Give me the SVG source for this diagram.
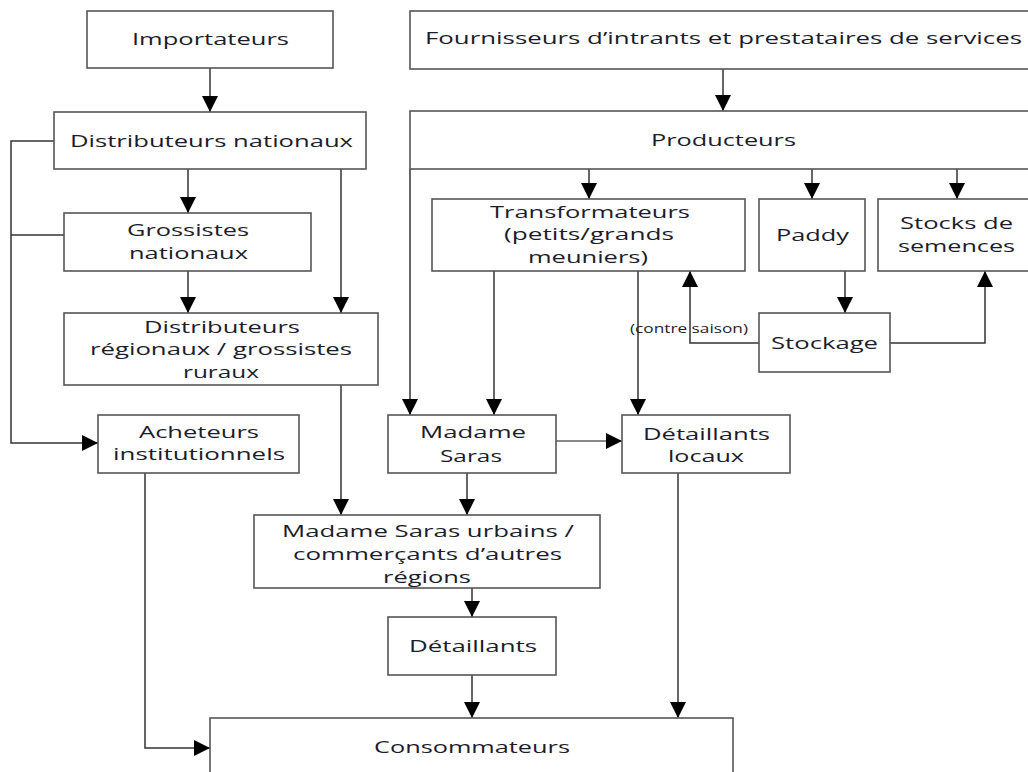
<svg xmlns="http://www.w3.org/2000/svg" width="1028" height="772" viewBox="0 0 1028 772">
<style>
.box{fill:#fff;stroke:#555;stroke-width:1.6}
.t{font-family:"Open Sans","Liberation Sans",sans-serif;font-size:17px;fill:#1c1c2c}
.s{font-family:"Open Sans","Liberation Sans",sans-serif;font-size:12px;fill:#1c1c2c}
.c{fill:none;stroke:#333;stroke-width:1.5}
.cl{fill:none;stroke:#888;stroke-width:1.8}
</style>
<defs>
<marker id="ah" markerUnits="userSpaceOnUse" markerWidth="16" markerHeight="16" viewBox="0 0 14 14" refX="14" refY="7" orient="auto">
<path d="M0,0 L14,7 L0,14 z" fill="#000"/>
</marker>
</defs>
<rect width="1028" height="772" fill="#fff"/>
<g id="connectors">
<path class="c" d="M210,68 V112" marker-end="url(#ah)"/>
<path class="c" d="M188,169 V213" marker-end="url(#ah)"/>
<path class="c" d="M341,169 V313" marker-end="url(#ah)"/>
<path class="c" d="M188,271 V313" marker-end="url(#ah)"/>
<path class="c" d="M54,141 H11 V443 H98" marker-end="url(#ah)"/>
<path class="c" d="M64,235 H11"/>
<path class="c" d="M341,385 V515" marker-end="url(#ah)"/>
<path class="c" d="M145,473 V748 H210" marker-end="url(#ah)"/>
<path class="c" d="M723,69 V111" marker-end="url(#ah)"/>
<path class="c" d="M589,169 V199" marker-end="url(#ah)"/>
<path class="c" d="M812,169 V199" marker-end="url(#ah)"/>
<path class="c" d="M957,169 V199" marker-end="url(#ah)"/>
<path class="c" d="M410,169 V415" marker-end="url(#ah)"/>
<path class="c" d="M494,271 V415" marker-end="url(#ah)"/>
<path class="c" d="M638,271 V415" marker-end="url(#ah)"/>
<path class="c" d="M845,271 V313" marker-end="url(#ah)"/>
<path class="c" d="M759,343 H690 V271" marker-end="url(#ah)"/>
<path class="c" d="M890,343 H985 V271" marker-end="url(#ah)"/>
<path class="cl" d="M556,441 H622" marker-end="url(#ah)"/>
<path class="c" d="M467,473 V515" marker-end="url(#ah)"/>
<path class="c" d="M472,588 V617" marker-end="url(#ah)"/>
<path class="c" d="M472,675 V718" marker-end="url(#ah)"/>
<path class="c" d="M678,473 V718" marker-end="url(#ah)"/>
<text class="s" x="630" y="333" textLength="118" lengthAdjust="spacingAndGlyphs">(contre saison)</text>
</g>
<g id="importateurs">
<rect class="box" x="87" y="11" width="246" height="57"/>
<text class="t" x="132" y="45" textLength="157" lengthAdjust="spacingAndGlyphs">Importateurs</text>
</g>
<g id="distributeurs-nationaux">
<rect class="box" x="54" y="112" width="312" height="57"/>
<text class="t" x="70" y="147" textLength="283" lengthAdjust="spacingAndGlyphs">Distributeurs nationaux</text>
</g>
<g id="grossistes">
<rect class="box" x="64" y="213" width="247" height="58"/>
<text class="t" x="127" y="236" textLength="122" lengthAdjust="spacingAndGlyphs">Grossistes</text>
<text class="t" x="129" y="259" textLength="119" lengthAdjust="spacingAndGlyphs">nationaux</text>
</g>
<g id="distributeurs-regionaux">
<rect class="box" x="64" y="313" width="314" height="72"/>
<text class="t" x="144" y="333" textLength="156" lengthAdjust="spacingAndGlyphs">Distributeurs</text>
<text class="t" x="90" y="355" textLength="262" lengthAdjust="spacingAndGlyphs">régionaux / grossistes</text>
<text class="t" x="183" y="378" textLength="76" lengthAdjust="spacingAndGlyphs">ruraux</text>
</g>
<g id="acheteurs">
<rect class="box" x="98" y="415" width="201" height="58"/>
<text class="t" x="139" y="438" textLength="120" lengthAdjust="spacingAndGlyphs">Acheteurs</text>
<text class="t" x="113" y="460" textLength="172" lengthAdjust="spacingAndGlyphs">institutionnels</text>
</g>
<g id="fournisseurs">
<rect class="box" x="410" y="11" width="625" height="58"/>
<text class="t" x="425" y="44" textLength="597" lengthAdjust="spacingAndGlyphs">Fournisseurs d’intrants et prestataires de services</text>
</g>
<g id="producteurs">
<rect class="box" x="410" y="111" width="625" height="58"/>
<text class="t" x="651" y="146" textLength="145" lengthAdjust="spacingAndGlyphs">Producteurs</text>
</g>
<g id="transformateurs">
<rect class="box" x="432" y="199" width="313" height="72"/>
<text class="t" x="490" y="218" textLength="200" lengthAdjust="spacingAndGlyphs">Transformateurs</text>
<text class="t" x="504" y="240" textLength="170" lengthAdjust="spacingAndGlyphs">(petits/grands</text>
<text class="t" x="528" y="263" textLength="120" lengthAdjust="spacingAndGlyphs">meuniers)</text>
</g>
<g id="paddy">
<rect class="box" x="759" y="199" width="106" height="72"/>
<text class="t" x="776" y="241" textLength="73" lengthAdjust="spacingAndGlyphs">Paddy</text>
</g>
<g id="stocks-semences">
<rect class="box" x="878" y="199" width="157" height="72"/>
<text class="t" x="900" y="229" textLength="113" lengthAdjust="spacingAndGlyphs">Stocks de</text>
<text class="t" x="898" y="252" textLength="117" lengthAdjust="spacingAndGlyphs">semences</text>
</g>
<g id="stockage">
<rect class="box" x="759" y="313" width="131" height="59"/>
<text class="t" x="771" y="349" textLength="107" lengthAdjust="spacingAndGlyphs">Stockage</text>
</g>
<g id="madame-saras">
<rect class="box" x="388" y="415" width="168" height="58"/>
<text class="t" x="420" y="438" textLength="106" lengthAdjust="spacingAndGlyphs">Madame</text>
<text class="t" x="440" y="462" textLength="62" lengthAdjust="spacingAndGlyphs">Saras</text>
</g>
<g id="detaillants-locaux">
<rect class="box" x="622" y="415" width="168" height="58"/>
<text class="t" x="643" y="440" textLength="127" lengthAdjust="spacingAndGlyphs">Détaillants</text>
<text class="t" x="668" y="462" textLength="76" lengthAdjust="spacingAndGlyphs">locaux</text>
</g>
<g id="madame-saras-urbains">
<rect class="box" x="254" y="515" width="346" height="73"/>
<text class="t" x="282" y="537" textLength="292" lengthAdjust="spacingAndGlyphs">Madame Saras urbains /</text>
<text class="t" x="293" y="560" textLength="269" lengthAdjust="spacingAndGlyphs">commerçants d’autres</text>
<text class="t" x="383" y="583" textLength="88" lengthAdjust="spacingAndGlyphs">régions</text>
</g>
<g id="detaillants">
<rect class="box" x="388" y="617" width="168" height="58"/>
<text class="t" x="409" y="652" textLength="128" lengthAdjust="spacingAndGlyphs">Détaillants</text>
</g>
<g id="consommateurs">
<rect class="box" x="210" y="718" width="523" height="70"/>
<text class="t" x="374" y="753" textLength="196" lengthAdjust="spacingAndGlyphs">Consommateurs</text>
</g>
</svg>
